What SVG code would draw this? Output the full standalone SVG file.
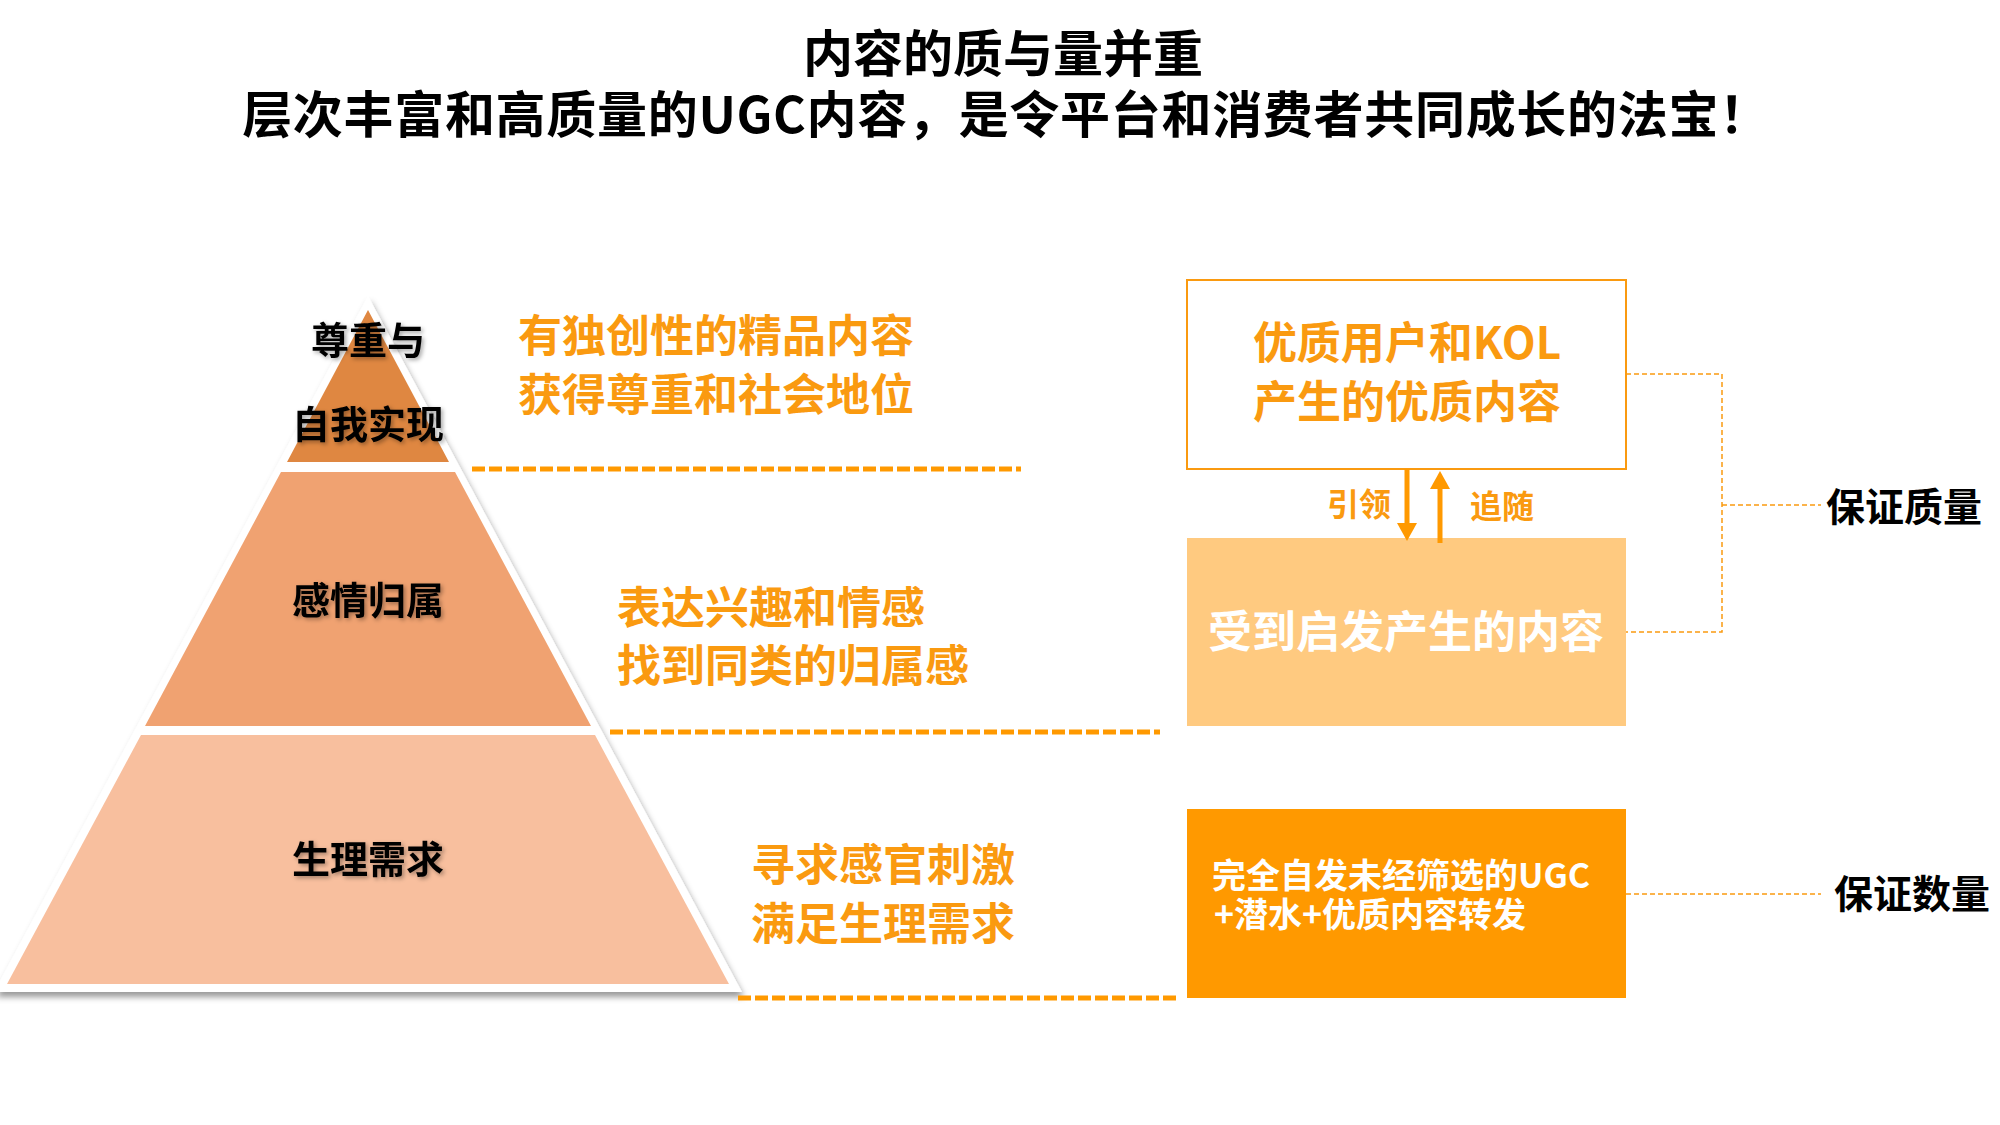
<svg xmlns="http://www.w3.org/2000/svg" width="2000" height="1125" viewBox="0 0 2000 1125">
<defs>
<style>
text{font-family:"Noto Sans CJK SC","Noto Sans",sans-serif;font-weight:700}
.title{font-size:50px;fill:#000;text-anchor:middle}
.plabel{font-size:38px;fill:#000;text-anchor:middle}
.otext{font-size:44px;fill:#FA9A10}
.side{font-size:39px;fill:#000}
.small{font-size:32px;fill:#FA9A10}
.dash{stroke:#FF9900;stroke-width:5;stroke-dasharray:13 4;fill:none}
.thin{stroke:#FA9A10;stroke-width:1.5;stroke-dasharray:5 3;fill:none}
.arrow{stroke:#FF9900;stroke-width:5;fill:none;marker-end:url(#ah)}
</style>
<filter id="tsh" x="-10%" y="-20%" width="130%" height="160%">
<feDropShadow dx="2" dy="2" stdDeviation="2" flood-color="#000" flood-opacity="0.35"/>
</filter>
<filter id="psh" x="-5%" y="-5%" width="110%" height="115%">
<feDropShadow dx="2" dy="5" stdDeviation="3" flood-color="#000" flood-opacity="0.4"/>
</filter>
<marker id="ah" viewBox="0 0 18 20" refX="10" refY="10" markerWidth="18" markerHeight="20" markerUnits="userSpaceOnUse" orient="auto">
<path d="M0,0 L18,10 L0,20 z" fill="#FF9900"/>
</marker>
</defs>
<rect width="2000" height="1125" fill="#fff"/>

<g id="title">
<text class="title" x="1003" y="72">内容的质与量并重</text>
<text class="title" x="1006" y="133" letter-spacing="0.7">层次丰富和高质量的UGC内容，是令平台和消费者共同成长的法宝！</text>
</g>

<g id="pyramid">
<polygon points="368,296 -6,992 742,992" fill="#fff" filter="url(#psh)"/>
<g id="tier-top">
<polygon points="368,310 287,462 449,462" fill="#DF8741"/>
<text class="plabel" x="368" y="354" filter="url(#tsh)">尊重与</text>
<text class="plabel" x="368" y="438" filter="url(#tsh)">自我实现</text>
</g>
<g id="tier-middle">
<polygon points="281,472 455,472 591,726 145,726" fill="#F0A271"/>
<text class="plabel" x="368" y="614" filter="url(#tsh)">感情归属</text>
</g>
<g id="tier-bottom">
<polygon points="141,735 595,735 729,984 7,984" fill="#F8BF9E"/>
<text class="plabel" x="368" y="873" filter="url(#tsh)">生理需求</text>
</g>
</g>

<g id="desc-top">
<text class="otext" x="518" y="352">有独创性的精品内容</text>
<text class="otext" x="518" y="411">获得尊重和社会地位</text>
</g>
<g id="desc-middle">
<text class="otext" x="617" y="624">表达兴趣和情感</text>
<text class="otext" x="617" y="682">找到同类的归属感</text>
</g>
<g id="desc-bottom">
<text class="otext" x="751" y="881">寻求感官刺激</text>
<text class="otext" x="751" y="940">满足生理需求</text>
</g>

<g id="box-kol">
<rect x="1187" y="280" width="439" height="189" fill="#fff" stroke="#FA9A10" stroke-width="2"/>
<text class="otext" x="1407" y="359" text-anchor="middle">优质用户和KOL</text>
<text class="otext" x="1407" y="418" text-anchor="middle">产生的优质内容</text>
</g>
<g id="box-inspired">
<rect x="1187" y="538" width="439" height="188" fill="#FFCA80"/>
<text x="1406" y="648" text-anchor="middle" style="font-size:44px;fill:#fff">受到启发产生的内容</text>
</g>
<g id="box-ugc">
<rect x="1187" y="809" width="439" height="189" fill="#FF9900"/>
<text x="1212" y="888" style="font-size:34px;fill:#fff">完全自发未经筛选的UGC</text>
<text x="1214" y="927" style="font-size:34px;fill:#fff">+潜水+优质内容转发</text>
</g>

<g id="label-quality"><text class="side" x="1826" y="521">保证质量</text></g>
<g id="label-quantity"><text class="side" x="1834" y="908">保证数量</text></g>

<g id="connectors">
<line class="dash" x1="472" y1="469" x2="1021" y2="469"/>
<line class="dash" x1="610" y1="732" x2="1160" y2="732"/>
<line class="dash" x1="738" y1="998" x2="1179" y2="998"/>
<line class="arrow" x1="1407" y1="469" x2="1407" y2="533"/>
<line class="arrow" x1="1440" y1="543" x2="1440" y2="479"/>
<text class="small" x="1327" y="516">引领</text>
<text class="small" x="1470" y="518">追随</text>
<polyline class="thin" points="1626,374 1722,374 1722,632 1626,632"/>
<line class="thin" x1="1722" y1="505" x2="1821" y2="505"/>
<line class="thin" x1="1626" y1="894" x2="1821" y2="894"/>
</g>
</svg>
